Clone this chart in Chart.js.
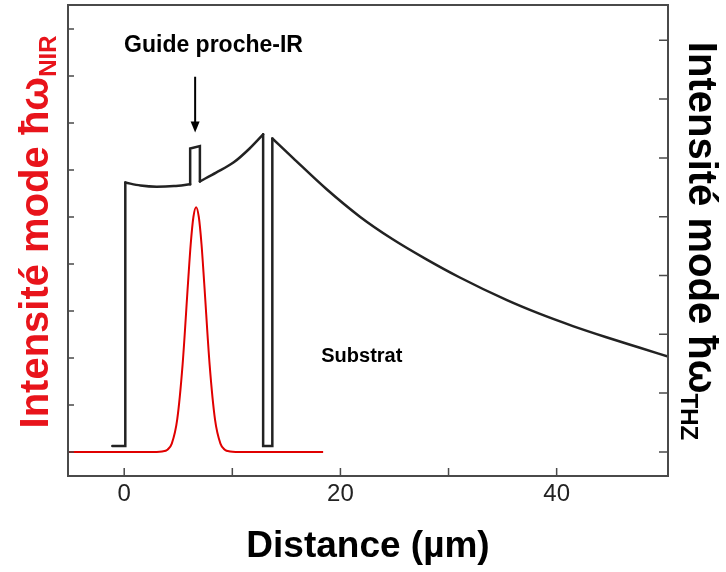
<!DOCTYPE html>
<html>
<head>
<meta charset="utf-8">
<script src="https://cdn.jsdelivr.net/npm/chart.js@4.4.1/dist/chart.umd.min.js"></script>
<style>
  html, body { margin: 0; padding: 0; background: #fff; }
  #wrap { width: 726px; height: 572px; }
</style>
</head>
<body>
<div id="wrap"><canvas id="chart" width="726" height="572"></canvas></div>
<script>
// THz mode profile (right axis, arbitrary units)
const thzX = [-1.1, 0.1, 0.1, 1.5, 3.0, 4.6, 6.1, 6.1, 7.0, 7.0, 8.5, 10.1, 11.6, 12.85, 12.85, 13.7, 13.7, 15.6, 18.7, 21.8, 24.8, 28.0, 31.0, 35.4, 38.4, 41.5, 44.6, 47.7, 50.3];
const thzY = [0.10, 0.10, 4.58, 4.53, 4.51, 4.52, 4.55, 5.16, 5.20, 4.60, 4.75, 4.92, 5.16, 5.40, 0.10, 0.10, 5.33, 5.00, 4.47, 4.00, 3.62, 3.27, 2.97, 2.58, 2.35, 2.14, 1.95, 1.77, 1.62];
// indices where the profile has a corner (steps of the waveguide / trench)
const thzCorners = [0, 2, 6, 9, 13, 16, 28];

// near-IR mode profile (left axis)
const nirX = [-5.2, 3.0, 3.5, 4.0, 4.4, 4.9, 5.4, 5.9, 6.15, 6.4, 6.65, 6.9, 7.15, 7.4, 7.9, 8.4, 8.9, 9.3, 9.8, 10.3, 18.4];
const nirY = [0.00, 0.00, 0.01, 0.05, 0.18, 0.69, 1.86, 3.59, 4.42, 5.00, 5.21, 5.00, 4.42, 3.59, 1.86, 0.69, 0.18, 0.05, 0.01, 0.00, 0.00];

const xTickLabels = [0, 20, 40];
const xMinorTicks = [10, 30];

const toPts = (xs, ys) => xs.map((x, i) => ({ x: x, y: ys[i] }));

const FONT = '"Liberation Sans", Arial, sans-serif';

// split the THz profile so the smooth parts get a monotone spline and the steps stay sharp
const thzPieces = [];
for (let k = 0; k < thzCorners.length - 1; k++) {
  const a = thzCorners[k], b = thzCorners[k + 1];
  const xs = thzX.slice(a, b + 1), ys = thzY.slice(a, b + 1);
  const sharp = xs.some((x, i) => i > 0 && x === xs[i - 1]);
  thzPieces.push({
    label: 'THz',
    data: toPts(xs, ys),
    yAxisID: 'yR',
    borderColor: '#222',
    borderWidth: 2.5,
    pointRadius: 0,
    tension: 0,
    cubicInterpolationMode: sharp ? 'default' : 'monotone',
    borderCapStyle: 'round',
    borderJoinStyle: 'miter',
    fill: false
  });
}

// frame, inward ticks, titles with subscripts, annotations
const decor = {
  id: 'decor',
  afterDatasetsDraw(chart) {
    const ctx = chart.ctx;
    const a = chart.chartArea;
    const sx = chart.scales.x, yl = chart.scales.yL, yr = chart.scales.yR;
    ctx.save();

    // frame
    ctx.strokeStyle = '#4a4a4a';
    ctx.lineWidth = 2;
    ctx.strokeRect(a.left, a.top, a.right - a.left, a.bottom - a.top);

    // inward ticks
    ctx.lineWidth = 1.5;
    ctx.beginPath();
    xTickLabels.concat(xMinorTicks).forEach(v => {
      const px = sx.getPixelForValue(v);
      ctx.moveTo(px, a.bottom);
      ctx.lineTo(px, a.bottom - 8);
    });
    yl.ticks.forEach(t => {
      const py = yl.getPixelForValue(t.value);
      ctx.moveTo(a.left, py);
      ctx.lineTo(a.left + 6, py);
    });
    yr.ticks.forEach(t => {
      const py = yr.getPixelForValue(t.value);
      ctx.moveTo(a.right, py);
      ctx.lineTo(a.right - 9, py);
    });
    ctx.stroke();

    // annotations
    ctx.fillStyle = '#000';
    ctx.strokeStyle = '#000';
    ctx.textAlign = 'center';
    ctx.textBaseline = 'middle';
    ctx.font = 'bold 23px ' + FONT;
    ctx.fillText('Guide proche-IR', sx.getPixelForValue(8.26), yr.getPixelForValue(6.91));
    ctx.font = 'bold 20px ' + FONT;
    ctx.fillText('Substrat', sx.getPixelForValue(21.98), yr.getPixelForValue(1.63));

    const ax = sx.getPixelForValue(6.56);
    const ay0 = yr.getPixelForValue(6.38), ay1 = yr.getPixelForValue(5.43);
    ctx.lineWidth = 2;
    ctx.beginPath();
    ctx.moveTo(ax, ay0);
    ctx.lineTo(ax, ay1 - 8);
    ctx.stroke();
    ctx.beginPath();
    ctx.moveTo(ax, ay1);
    ctx.lineTo(ax - 4.5, ay1 - 11);
    ctx.lineTo(ax + 4.5, ay1 - 11);
    ctx.closePath();
    ctx.fill();

    // x title
    ctx.font = 'bold 37px ' + FONT;
    ctx.fillText('Distance (\u00b5m)', (a.left + a.right) / 2, 547);

    // rotated titles with subscript
    const vTitle = (cx, cy, rot, main, sub, color, subShift) => {
      ctx.save();
      ctx.translate(cx, cy);
      ctx.rotate(rot);
      ctx.fillStyle = color;
      ctx.textAlign = 'left';
      ctx.textBaseline = 'alphabetic';
      ctx.font = 'bold 40px ' + FONT;
      const w1 = ctx.measureText(main).width;
      ctx.font = 'bold 24px ' + FONT;
      const w2 = ctx.measureText(sub).width;
      const x0 = -(w1 + w2) / 2;
      ctx.font = 'bold 40px ' + FONT;
      ctx.fillText(main, x0, 0);
      ctx.font = 'bold 24px ' + FONT;
      ctx.fillText(sub, x0 + w1, subShift);
      ctx.restore();
    };
    vTitle(48, 232, -Math.PI / 2, 'Intensit\u00e9 mode \u0127\u03c9', 'NIR', '#e8141b', 8);
    vTitle(689, 241, Math.PI / 2, 'Intensit\u00e9 mode \u0127\u03c9', 'THZ', '#000', 8);

    ctx.restore();
  }
};

new Chart(document.getElementById('chart'), {
  type: 'line',
  data: {
    datasets: thzPieces.concat([
      {
        label: 'NIR',
        data: toPts(nirX, nirY),
        yAxisID: 'yL',
        borderColor: '#e00000',
        borderWidth: 2,
        pointRadius: 0,
        cubicInterpolationMode: 'monotone',
        fill: false
      }
    ])
  },
  options: {
    responsive: false,
    animation: false,
    devicePixelRatio: 1,
    layout: { padding: { top: 5, left: 0, right: 0, bottom: 0 } },
    plugins: { legend: { display: false }, tooltip: { enabled: false } },
    scales: {
      x: {
        type: 'linear',
        min: -5.2,
        max: 50.3,
        grid: { display: false, drawTicks: false },
        border: { display: false },
        ticks: {
          stepSize: 10,
          includeBounds: false,
          padding: 4,
          color: '#222',
          font: { family: FONT, size: 24 },
          maxRotation: 0,
          callback: v => xTickLabels.includes(v) ? String(v) : ''
        },
        afterFit: s => { s.height = 96; }
      },
      yL: {
        type: 'linear',
        position: 'left',
        min: -0.51,
        max: 9.51,
        grid: { display: false, drawTicks: false },
        border: { display: false },
        ticks: { stepSize: 1, includeBounds: false, display: false },
        afterFit: s => { s.width = 68; }
      },
      yR: {
        type: 'linear',
        position: 'right',
        min: -0.41,
        max: 7.6,
        grid: { display: false, drawTicks: false },
        border: { display: false },
        ticks: { stepSize: 1, includeBounds: false, display: false },
        afterFit: s => { s.width = 58; }
      }
    }
  },
  plugins: [decor]
});
</script>
</body>
</html>
